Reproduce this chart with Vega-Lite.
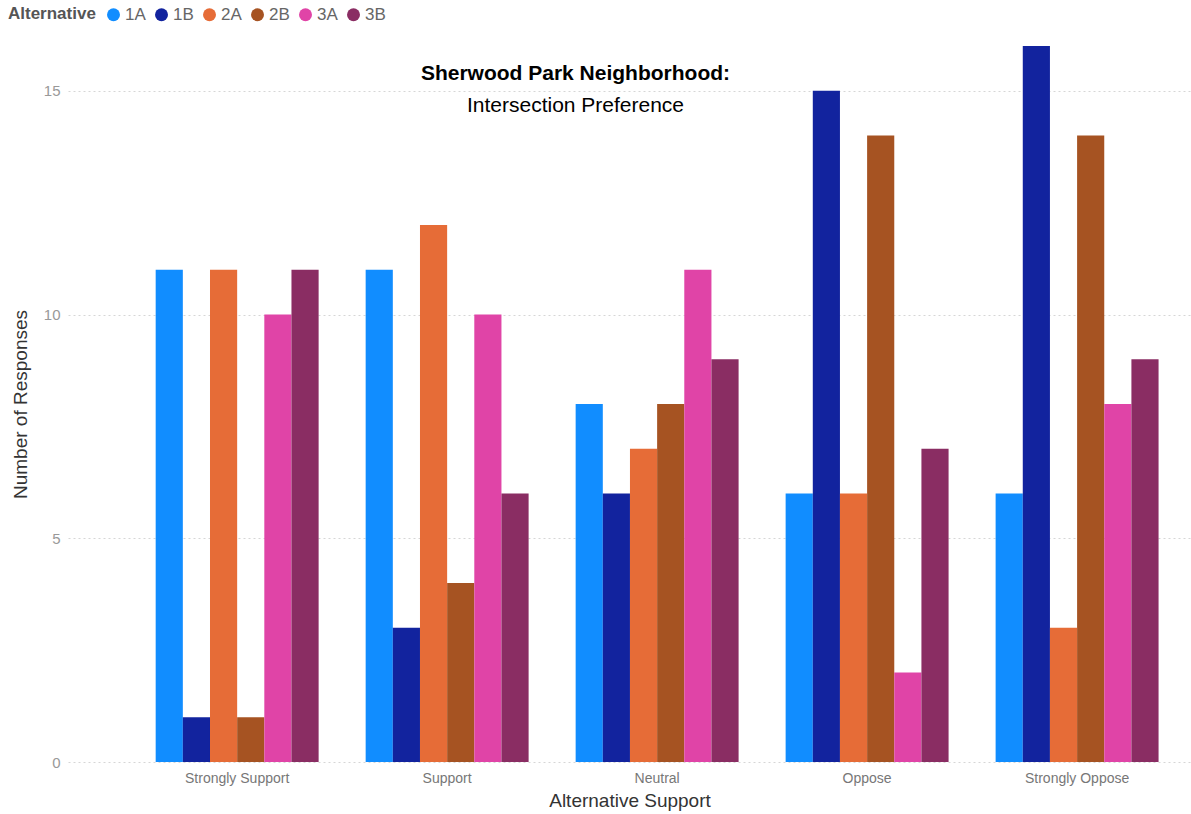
{
  "$schema": "https://vega.github.io/schema/vega-lite/v6.json",
  "autosize": "none",
  "width": 1123,
  "height": 716,
  "padding": {"left": 68, "top": 46, "right": 0, "bottom": 52},
  "background": "white",
  "title": {
    "text": "Sherwood Park Neighborhood:",
    "subtitle": "Intersection Preference",
    "anchor": "middle",
    "orient": "top",
    "offset": -110,
    "dx": -54,
    "font": "Liberation Sans",
    "fontSize": 21,
    "fontWeight": "bold",
    "color": "#000000",
    "subtitleFont": "Liberation Sans",
    "subtitleFontSize": 21,
    "subtitleColor": "#000000",
    "subtitlePadding": 11
  },
  "data": {
    "values": [
      {"support": "Strongly Support", "alternative": "1A", "responses": 11},
      {"support": "Strongly Support", "alternative": "1B", "responses": 1},
      {"support": "Strongly Support", "alternative": "2A", "responses": 11},
      {"support": "Strongly Support", "alternative": "2B", "responses": 1},
      {"support": "Strongly Support", "alternative": "3A", "responses": 10},
      {"support": "Strongly Support", "alternative": "3B", "responses": 11},
      {"support": "Support", "alternative": "1A", "responses": 11},
      {"support": "Support", "alternative": "1B", "responses": 3},
      {"support": "Support", "alternative": "2A", "responses": 12},
      {"support": "Support", "alternative": "2B", "responses": 4},
      {"support": "Support", "alternative": "3A", "responses": 10},
      {"support": "Support", "alternative": "3B", "responses": 6},
      {"support": "Neutral", "alternative": "1A", "responses": 8},
      {"support": "Neutral", "alternative": "1B", "responses": 6},
      {"support": "Neutral", "alternative": "2A", "responses": 7},
      {"support": "Neutral", "alternative": "2B", "responses": 8},
      {"support": "Neutral", "alternative": "3A", "responses": 11},
      {"support": "Neutral", "alternative": "3B", "responses": 9},
      {"support": "Oppose", "alternative": "1A", "responses": 6},
      {"support": "Oppose", "alternative": "1B", "responses": 15},
      {"support": "Oppose", "alternative": "2A", "responses": 6},
      {"support": "Oppose", "alternative": "2B", "responses": 14},
      {"support": "Oppose", "alternative": "3A", "responses": 2},
      {"support": "Oppose", "alternative": "3B", "responses": 7},
      {"support": "Strongly Oppose", "alternative": "1A", "responses": 6},
      {"support": "Strongly Oppose", "alternative": "1B", "responses": 16},
      {"support": "Strongly Oppose", "alternative": "2A", "responses": 3},
      {"support": "Strongly Oppose", "alternative": "2B", "responses": 14},
      {"support": "Strongly Oppose", "alternative": "3A", "responses": 8},
      {"support": "Strongly Oppose", "alternative": "3B", "responses": 9}
    ]
  },
  "mark": {"type": "bar"},
  "encoding": {
    "x": {
      "field": "support",
      "type": "nominal",
      "sort": ["Strongly Support", "Support", "Neutral", "Oppose", "Strongly Oppose"],
      "scale": {"paddingInner": 0.224, "paddingOuter": 0.286, "align": 0.73},
      "axis": {
        "title": "Alternative Support",
        "labelAngle": 0,
        "labelFont": "Liberation Sans",
        "labelFontSize": 14,
        "labelColor": "#777777",
        "labelPadding": 9,
        "titleFont": "Liberation Sans",
        "titleFontSize": 19,
        "titleFontWeight": "normal",
        "titleColor": "#333333",
        "titlePadding": 6,
        "domain": false,
        "ticks": false,
        "grid": false
      }
    },
    "xOffset": {
      "field": "alternative",
      "type": "nominal",
      "sort": ["1A", "1B", "2A", "2B", "3A", "3B"],
      "scale": {"paddingInner": 0, "paddingOuter": 0}
    },
    "y": {
      "field": "responses",
      "type": "quantitative",
      "scale": {"domain": [0, 16], "nice": false},
      "axis": {
        "title": "Number of Responses",
        "values": [0, 5, 10, 15],
        "labelFont": "Liberation Sans",
        "labelFontSize": 15,
        "labelColor": "#999999",
        "labelPadding": 8,
        "titleFont": "Liberation Sans",
        "titleFontSize": 19,
        "titleFontWeight": "normal",
        "titleColor": "#333333",
        "titlePadding": 13,
        "domain": false,
        "ticks": false,
        "grid": true,
        "gridColor": "#d6d6d6",
        "gridDash": [2, 3],
        "gridWidth": 1
      }
    },
    "color": {
      "field": "alternative",
      "type": "nominal",
      "sort": ["1A", "1B", "2A", "2B", "3A", "3B"],
      "scale": {
        "domain": ["1A", "1B", "2A", "2B", "3A", "3B"],
        "range": ["#118DFF", "#12239E", "#E66C37", "#A65322", "#E044A7", "#8A2D63"]
      },
      "legend": {
        "title": "Alternative",
        "orient": "none",
        "legendX": -60,
        "legendY": -40,
        "direction": "horizontal",
        "titleOrient": "left",
        "titleFont": "Liberation Sans",
        "titleFontSize": 17,
        "titleFontWeight": "bold",
        "titleColor": "#555555",
        "titlePadding": 9,
        "symbolType": "circle",
        "symbolSize": 169,
        "symbolStrokeWidth": 0,
        "labelFont": "Liberation Sans",
        "labelFontSize": 17,
        "labelColor": "#666666",
        "labelOffset": 3,
        "columnPadding": 7
      }
    }
  },
  "config": {
    "view": {"stroke": null}
  }
}
